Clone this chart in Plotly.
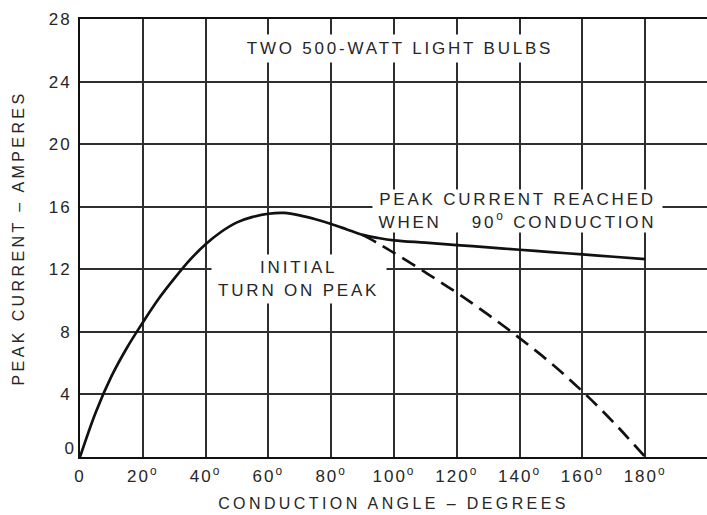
import plotly.graph_objects as go

# ---- data ----
angle_solid = [0, 5, 10, 15, 20, 25, 30, 35, 40, 45, 50, 55, 60, 65, 70, 75, 80, 85, 90,
               95, 100, 110, 120, 130, 140, 150, 160, 170, 180]
current_solid = [0, 2.85, 5.15, 7.0, 8.6, 10.1, 11.4, 12.6, 13.6, 14.4, 15.0, 15.35, 15.55,
                 15.6, 15.45, 15.2, 14.9, 14.55, 14.2, 14.0, 13.85, 13.7, 13.55, 13.4, 13.25,
                 13.1, 12.95, 12.8, 12.65]

angle_dashed = [90, 95, 100, 110, 120, 130, 140, 150, 160, 170, 180]
current_dashed = [14.2, 13.65, 13.05, 11.8, 10.5, 9.1, 7.6, 6.0, 4.2, 2.2, 0]

x_tickvals = [0, 20, 40, 60, 80, 100, 120, 140, 160, 180]
x_ticktext = ["0"] + [f"{v}<sup>o</sup>" for v in x_tickvals[1:]]
y_tickvals = [4, 8, 12, 16, 20, 24, 28]
y_ticktext = [str(v) for v in y_tickvals]

FONT = "Liberation Sans, Arial, sans-serif"
INK = "#262626"

fig = go.Figure()
fig.add_trace(go.Scatter(x=angle_solid, y=current_solid, mode="lines",
                         line=dict(color="#111111", width=2.7, shape="spline", smoothing=1.0),
                         hoverinfo="skip", showlegend=False))
fig.add_trace(go.Scatter(x=angle_dashed, y=current_dashed, mode="lines",
                         line=dict(color="#111111", width=2.7, dash="15px,8px", shape="spline", smoothing=1.0),
                         hoverinfo="skip", showlegend=False))

ann_font = dict(family=FONT, size=17, color=INK)
fig.add_annotation(x=102, y=26.1, xref="x", yref="y", text="TWO 500-WATT LIGHT BULBS",
                   showarrow=False, font=ann_font, bgcolor="white", width=318, height=27,
                   borderpad=0)
fig.add_annotation(x=139.5, y=15.75, xref="x", yref="y",
                   text="PEAK CURRENT REACHED<br>WHEN    90<sup>o</sup> CONDUCTION",
                   showarrow=False, font=ann_font, bgcolor="white", width=289, height=42,
                   borderpad=0)
fig.add_annotation(x=69.8, y=11.4, xref="x", yref="y", text="INITIAL<br>TURN ON PEAK",
                   showarrow=False, font=ann_font, bgcolor="white", width=174, height=48,
                   borderpad=0)
# raised "0" label of the y axis
fig.add_annotation(x=0, y=0, xref="paper", yref="y", text="0", showarrow=False,
                   xanchor="right", yanchor="middle", xshift=-3, yshift=9,
                   font=dict(family=FONT, size=17, color=INK))

fig.update_layout(
    width=707, height=515,
    margin=dict(l=80, r=0, t=19, b=58),
    paper_bgcolor="white", plot_bgcolor="white",
    font=dict(family=FONT, size=17, color=INK),
    xaxis=dict(range=[0, 199.7], tickvals=x_tickvals, ticktext=x_ticktext,
               showgrid=True, gridcolor="#2e2e2e", gridwidth=1.5, zeroline=False,
               showline=True, linecolor="#111111", linewidth=2, mirror=True,
               ticks="", ticklabelstandoff=3, automargin=False,
               tickfont=dict(family=FONT, size=17, color=INK),
               title=dict(text="CONDUCTION ANGLE – DEGREES", standoff=12,
                          font=dict(family=FONT, size=16, color=INK))),
    yaxis=dict(range=[0, 28], tickvals=y_tickvals, ticktext=y_ticktext,
               showgrid=True, gridcolor="#2e2e2e", gridwidth=1.5, zeroline=False,
               showline=True, linecolor="#111111", linewidth=2, mirror=False,
               ticks="", ticklabelstandoff=3, automargin=False,
               tickfont=dict(family=FONT, size=17, color=INK),
               title=dict(text="PEAK CURRENT – AMPERES", standoff=24,
                          font=dict(family=FONT, size=16, color=INK))),
)

css = ("html,body{margin:0;padding:0;overflow:hidden}"
       ".js-plotly-plot .main-svg .annotation-text{letter-spacing:2.8px}"
       ".js-plotly-plot .main-svg .xtitle,.js-plotly-plot .main-svg .ytitle{letter-spacing:3.4px}"
       ".js-plotly-plot .main-svg .xtick text,.js-plotly-plot .main-svg .ytick text{letter-spacing:2px}")
post = ("var s=document.createElement('style');s.innerHTML='" + css + "';"
        "document.head.appendChild(s);")

fig.write_html("out.html", post_script=post, config={"displayModeBar": False})
